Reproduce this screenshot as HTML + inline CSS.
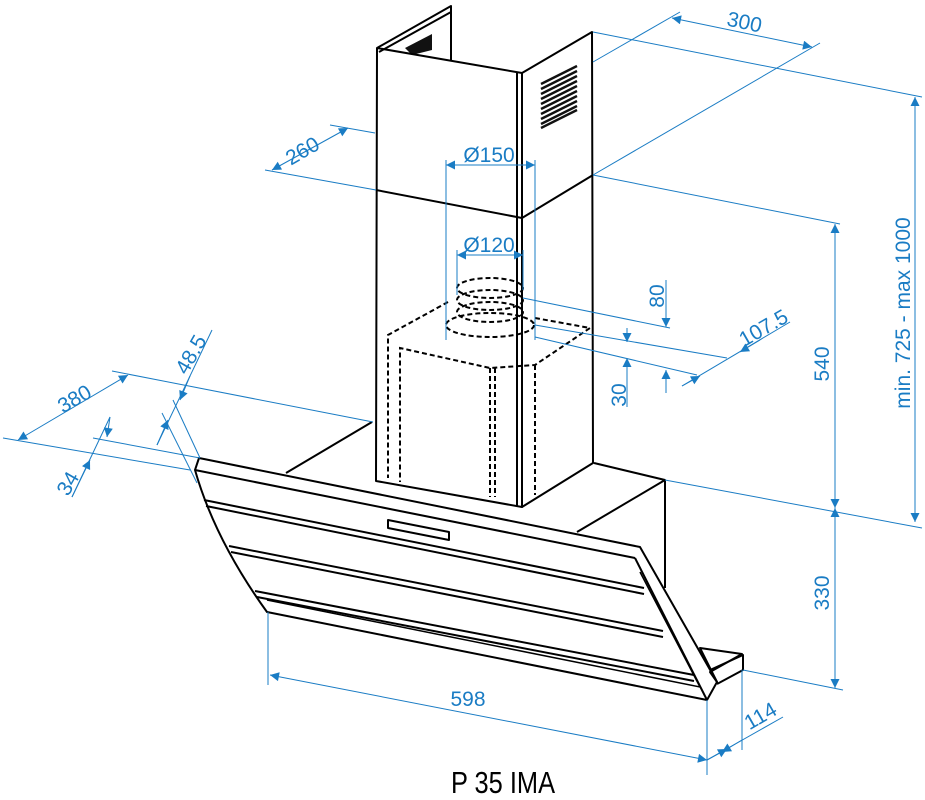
<!DOCTYPE html>
<html><head><meta charset="utf-8"><style>
html,body{margin:0;padding:0;background:#fff}
svg{display:block}
.k{stroke:#000;stroke-width:2;fill:none;stroke-linejoin:round}
.k1{stroke:#000;stroke-width:1.5;fill:none}
.d{stroke:#000;stroke-width:2;fill:none;stroke-dasharray:5 3}
.b{stroke:#1a7cc4;stroke-width:1;fill:none}
.t{fill:#1a7cc4;font-family:"Liberation Sans",sans-serif;font-size:21px}
</style></head><body>
<svg width="925" height="800" viewBox="0 0 925 800" xmlns="http://www.w3.org/2000/svg">
<defs>
<marker id="a" viewBox="0 0 10 10" refX="10" refY="5" markerWidth="14" markerHeight="9" markerUnits="userSpaceOnUse" orient="auto-start-reverse"><path d="M0,0 L10,5 L0,10 z" fill="#1a7cc4"/></marker>
</defs>

<!-- chimney -->
<polyline class="k" points="377,48 451,6 451,60"/>
<polyline class="k" points="379,52 451,12"/>
<path d="M405,48 L432,34 L432,50 L412,55 z" fill="#111"/>
<polygon class="k" points="377,48 522,73 522,507 376,481"/>
<polygon class="k" points="522,73 592,32 593,463 522,507"/>
<line class="k" x1="517" y1="72" x2="517" y2="506"/>
<polyline class="k" points="376,190 522,218 593,175"/>
<g stroke="#111" stroke-width="2.4">
<line x1="541" y1="84" x2="577" y2="66"/><line x1="541" y1="89" x2="577" y2="71"/><line x1="541" y1="94" x2="577" y2="76"/><line x1="541" y1="99" x2="577" y2="81"/><line x1="541" y1="104" x2="577" y2="86"/><line x1="541" y1="109" x2="577" y2="91"/><line x1="541" y1="114" x2="577" y2="96"/><line x1="541" y1="119" x2="577" y2="101"/><line x1="541" y1="124" x2="577" y2="106"/><line x1="541" y1="128" x2="577" y2="110"/>
</g>
<!-- dashed motor -->
<g class="d">
<ellipse cx="490" cy="288" rx="33" ry="10"/>
<ellipse cx="490" cy="300" rx="33" ry="10"/>
<ellipse cx="490" cy="312" rx="33" ry="10"/>
<ellipse cx="490" cy="325" rx="44" ry="12"/>
<polyline points="448,302 388,335 388,478"/>
<polyline points="535,318 590,328 535,365 490,368 400,348 400,482"/>
<line x1="490" y1="368" x2="490" y2="497"/>
<line x1="495" y1="368" x2="495" y2="497"/>
<line x1="535" y1="365" x2="535" y2="495"/>
</g>
<!-- back box -->
<polyline class="k" points="286,473 372,422"/>
<polyline class="k" points="594,463 665,480 665,588"/>
<polyline class="k" points="665,480 577,532"/>
<!-- hood glass -->
<path class="k" d="M199,458 L640,547 L717,682 L707,700 L267,612 Q215,540 195,470 Z" fill="#fff"/>
<line class="k" x1="195" y1="470" x2="635" y2="558"/>
<line class="k" x1="635" y1="558" x2="707" y2="700"/>
<polyline class="k1" points="640,572 700,687 267,600"/>
<line class="k" x1="204" y1="500" x2="644" y2="588"/>
<line class="k" x1="206" y1="506" x2="644" y2="594"/>
<line class="k" x1="229" y1="546" x2="663" y2="631"/>
<line class="k" x1="231" y1="552" x2="663" y2="637"/>
<line class="k" x1="255" y1="591" x2="694" y2="675"/>
<line class="k" x1="257" y1="597" x2="694" y2="681"/>
<polygon class="k" points="388,520 449,532 449,540 388,528"/>
<!-- shelf -->
<polygon class="k" points="700,648 742,654 710,672 717,682" fill="#fff"/>
<polyline class="k" points="710,670 743,655 743,670 717,684"/>

<!-- dimension lines -->
<g class="b">
<line x1="680" y1="12" x2="593" y2="62"/>
<line x1="820" y1="43" x2="593" y2="175"/>
<line x1="593" y1="32" x2="922" y2="97"/>
<line x1="593" y1="175" x2="840" y2="224"/>
<line x1="672" y1="18" x2="812" y2="47" marker-start="url(#a)" marker-end="url(#a)"/>
<line x1="915" y1="97" x2="915" y2="522" marker-start="url(#a)" marker-end="url(#a)"/>
<line x1="835" y1="224" x2="835" y2="508" marker-start="url(#a)" marker-end="url(#a)"/>
<line x1="835" y1="508" x2="835" y2="688" marker-start="url(#a)" marker-end="url(#a)"/>
<line x1="665" y1="480" x2="922" y2="528"/>
<line x1="743" y1="670" x2="843" y2="690"/>
<line x1="330" y1="125" x2="375" y2="133"/>
<line x1="265" y1="170" x2="376" y2="190"/>
<line x1="272" y1="170" x2="348" y2="128" marker-start="url(#a)" marker-end="url(#a)"/>
<line x1="112" y1="371" x2="373" y2="422"/>
<line x1="3" y1="438" x2="190" y2="470"/>
<line x1="93" y1="438" x2="200" y2="458"/>
<line x1="18" y1="440" x2="128" y2="375" marker-start="url(#a)" marker-end="url(#a)"/>
<line x1="110" y1="417" x2="72" y2="497"/>
<line x1="110" y1="417" x2="107" y2="437" marker-end="url(#a)"/>
<line x1="72" y1="497" x2="90" y2="460" marker-end="url(#a)"/>
<line x1="173" y1="400" x2="200" y2="458"/>
<line x1="162" y1="413" x2="197" y2="483"/>
<line x1="212" y1="330" x2="157" y2="445"/>
<line x1="190" y1="376" x2="180" y2="400" marker-end="url(#a)"/>
<line x1="157" y1="445" x2="168" y2="420" marker-end="url(#a)"/>
<line x1="446" y1="160" x2="446" y2="340"/>
<line x1="535" y1="160" x2="535" y2="340"/>
<line x1="446" y1="165" x2="535" y2="165" marker-start="url(#a)" marker-end="url(#a)"/>
<line x1="457" y1="250" x2="457" y2="295"/>
<line x1="523" y1="250" x2="523" y2="290"/>
<line x1="457" y1="255" x2="523" y2="255" marker-start="url(#a)" marker-end="url(#a)"/>
<line x1="523" y1="298" x2="670" y2="328"/>
<line x1="535" y1="325" x2="727" y2="358"/>
<line x1="535" y1="337" x2="697" y2="375"/>
<line x1="666" y1="280" x2="666" y2="327" marker-end="url(#a)"/>
<line x1="666" y1="393" x2="666" y2="370" marker-end="url(#a)"/>
<line x1="627" y1="328" x2="627" y2="342" marker-end="url(#a)"/>
<line x1="627" y1="407" x2="627" y2="358" marker-end="url(#a)"/>
<line x1="682" y1="386" x2="790" y2="322"/>
<line x1="682" y1="386" x2="700" y2="376" marker-end="url(#a)"/>
<line x1="760" y1="340" x2="740" y2="352" marker-end="url(#a)"/>
<line x1="268" y1="612" x2="268" y2="685"/>
<line x1="707" y1="700" x2="707" y2="775"/>
<line x1="742" y1="670" x2="742" y2="750"/>
<line x1="270" y1="675" x2="707" y2="760" marker-start="url(#a)" marker-end="url(#a)"/>
<line x1="707" y1="760" x2="783" y2="717"/>
<line x1="742" y1="740" x2="722" y2="752" marker-end="url(#a)"/>
<line x1="707" y1="760" x2="727" y2="749" marker-end="url(#a)"/>
</g>

<g class="t">
<text x="743" y="29" transform="rotate(12 743 29)" text-anchor="middle">300</text>
<text x="306" y="157" transform="rotate(-30 306 157)" text-anchor="middle">260</text>
<text x="78" y="405" transform="rotate(-30 78 405)" text-anchor="middle">380</text>
<text x="74" y="487" transform="rotate(-60 74 487)" text-anchor="middle">34</text>
<text x="197" y="358" transform="rotate(-60 197 358)" text-anchor="middle">48.5</text>
<text x="489" y="162" text-anchor="middle">Ø150</text>
<text x="489" y="252" text-anchor="middle">Ø120</text>
<text x="664" y="296" transform="rotate(-90 664 296)" text-anchor="middle">80</text>
<text x="626" y="395" transform="rotate(-90 626 395)" text-anchor="middle">30</text>
<text x="767" y="334" transform="rotate(-30 767 334)" text-anchor="middle">107.5</text>
<text x="829" y="364" transform="rotate(-90 829 364)" text-anchor="middle">540</text>
<text x="829" y="593" transform="rotate(-90 829 593)" text-anchor="middle">330</text>
<text x="910" y="313" transform="rotate(-90 910 313)" text-anchor="middle">min. 725 - max 1000</text>
<text x="468" y="706" text-anchor="middle">598</text>
<text x="764" y="722" transform="rotate(-30 764 722)" text-anchor="middle">114</text>
</g>
<text x="0" y="0" transform="translate(503,793) scale(0.82,1)" text-anchor="middle" font-family="Liberation Sans, sans-serif" font-size="31" fill="#000">P 35 IMA</text>
</svg>
</body></html>
